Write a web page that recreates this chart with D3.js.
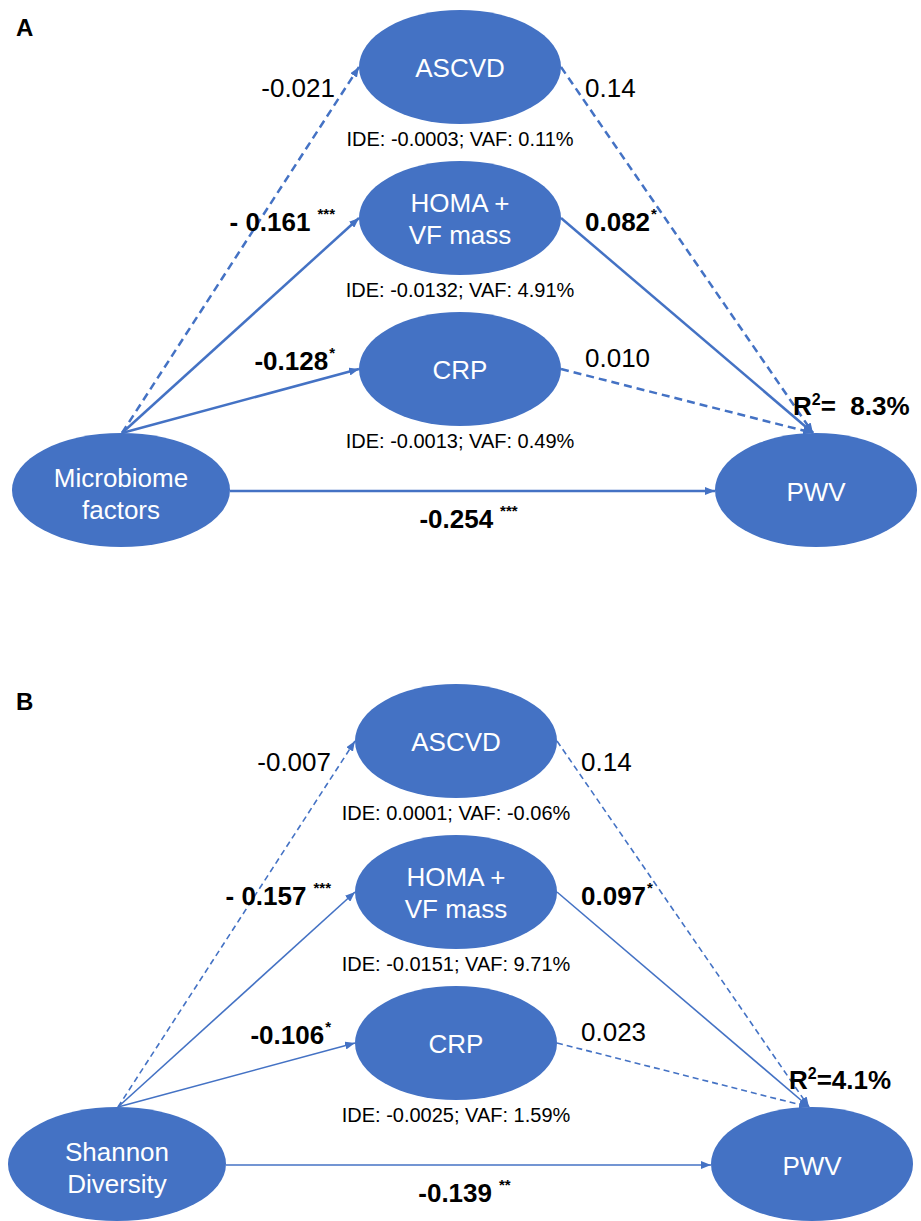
<!DOCTYPE html>
<html>
<head>
<meta charset="utf-8">
<script src="https://cdn.jsdelivr.net/npm/d3@7"></script>
<style>
  body { margin: 0; background: #fff; }
  text { font-family: "Liberation Sans", Arial, sans-serif; }
</style>
</head>
<body>
<div id="chart"></div>
<script>
// ---- data ----
const panelNames = ["A", "B"];
const sourceNames = ["Microbiome\nfactors", "Shannon\nDiversity"];
const mediatorNames = ["ASCVD", "HOMA +\nVF mass", "CRP"];
const outcomeName = "PWV";

// panel A
const aLabelsA = ["-0.021", "- 0.161", "-0.128"];
const aSigA = ["", "***", "*"];
const bLabelsA = ["0.14", "0.082", "0.010"];
const bSigA = ["", "*", ""];
const cLabelA = "-0.254", cSigA = "***";
const ideA = ["-0.0003", "-0.0132", "-0.0013"];
const vafA = ["0.11%", "4.91%", "0.49%"];
const r2A = "8.3%";

// panel B
const aLabelsB = ["-0.007", "- 0.157", "-0.106"];
const aSigB = ["", "***", "*"];
const bLabelsB = ["0.14", "0.097", "0.023"];
const bSigB = ["", "*", ""];
const cLabelB = "-0.139", cSigB = "**";
const ideB = ["0.0001", "-0.0151", "-0.0025"];
const vafB = ["-0.06%", "9.71%", "1.59%"];
const r2B = "4.1%";

// ---- layout ----
const width = 921, height = 1221;
const blue = "#4472C4";
const panelShift = [[0, 0], [-4, 674]];
const lineW = [2.5, 1.6];
const dashes = ["8,5", "6,4"];
const r2Gap = ["  ", ""];

const x = d3.scaleOrdinal()
    .domain(["source", "mediator", "outcome"])
    .range([121, 460, 816]);
const yMed = d3.scalePoint()
    .domain(mediatorNames)
    .range([67, 369]);
const yBase = 490;
const rx = { source: 109, mediator: 101, outcome: 101 };
const ry = 57;
const aDy = [30, 13, 1], bDy = [30, 13, -2];

const panels = [
    { a: aLabelsA, aSig: aSigA, b: bLabelsA, bSig: bSigA, c: cLabelA, cSig: cSigA, ide: ideA, vaf: vafA, r2: r2A },
    { a: aLabelsB, aSig: aSigB, b: bLabelsB, bSig: bSigB, c: cLabelB, cSig: cSigB, ide: ideB, vaf: vafB, r2: r2B }
];

const svg = d3.select("#chart")
    .append("svg")
    .attr("width", width)
    .attr("height", height);

svg.append("defs").append("marker")
    .attr("id", "arrow")
    .attr("markerUnits", "userSpaceOnUse")
    .attr("viewBox", "0 0 10 8")
    .attr("markerWidth", 10)
    .attr("markerHeight", 8)
    .attr("refX", 10)
    .attr("refY", 4)
    .attr("orient", "auto")
    .append("path")
    .attr("d", "M0,0 L10,4 L0,8 z")
    .attr("fill", blue);

function coefLabel(g, px, py, anchor, label, sig) {
    const t = g.append("text")
        .attr("x", px)
        .attr("y", py)
        .attr("text-anchor", anchor)
        .style("font-size", "26px")
        .style("white-space", "pre")
        .style("font-weight", sig ? "bold" : "normal")
        .attr("fill", "#000");
    t.append("tspan").text(label);
    if (sig) {
        t.append("tspan")
            .attr("dx", sig.length > 1 ? 7 : 1)
            .attr("dy", -12)
            .style("font-size", "15px")
            .text(sig);
    }
}

function nodeText(g, cx, cy, name, shift) {
    const lines = name.split("\n");
    g.append("text")
        .attr("text-anchor", "middle")
        .attr("fill", "#fff")
        .style("font-size", "26px")
        .selectAll("tspan")
        .data(lines)
        .join("tspan")
        .attr("x", cx)
        .attr("y", (d, i) => cy + (i - (lines.length - 1) / 2) * 32 + 9.5 + shift)
        .text(d => d);
}

panels.forEach((p, k) => {
    svg.append("text")
        .attr("x", 16)
        .attr("y", panelShift[k][1] + 36)
        .style("font-size", "24px")
        .style("font-weight", "bold")
        .text(panelNames[k]);

    const g = svg.append("g")
        .attr("transform", `translate(${panelShift[k][0]}, ${panelShift[k][1]})`);

    // edges
    const srcTop = [x("source") + 1, yBase - ry];
    const outTop = [x("outcome") - 3, yBase - ry];
    const edges = [];
    mediatorNames.forEach((m, i) => {
        edges.push({ p0: srcTop, p1: [x("mediator") - rx.mediator, yMed(m)], sig: p.aSig[i] });
        edges.push({ p0: [x("mediator") + rx.mediator, yMed(m)], p1: outTop, sig: p.bSig[i] });
    });
    edges.push({
        p0: [x("source") + rx.source, yBase + 1],
        p1: [x("outcome") - rx.outcome, yBase + 1],
        sig: p.cSig
    });

    g.selectAll("line.edge")
        .data(edges)
        .join("line")
        .attr("class", "edge")
        .attr("x1", d => d.p0[0])
        .attr("y1", d => d.p0[1])
        .attr("x2", d => d.p1[0])
        .attr("y2", d => d.p1[1])
        .attr("stroke", blue)
        .attr("stroke-width", lineW[k])
        .attr("stroke-dasharray", d => d.sig ? null : dashes[k])
        .attr("marker-end", "url(#arrow)");

    // nodes
    const nodes = mediatorNames.map(m => ({ name: m, cx: x("mediator"), cy: yMed(m), rx: rx.mediator, shift: 0 }));
    nodes.push({ name: sourceNames[k], cx: x("source"), cy: yBase, rx: rx.source, shift: 3 });
    nodes.push({ name: outcomeName, cx: x("outcome"), cy: yBase, rx: rx.outcome, shift: 1 });

    g.selectAll("ellipse")
        .data(nodes)
        .join("ellipse")
        .attr("cx", d => d.cx)
        .attr("cy", d => d.cy)
        .attr("rx", d => d.rx)
        .attr("ry", ry)
        .attr("fill", blue);

    nodes.forEach(n => nodeText(g, n.cx, n.cy, n.name, n.shift));

    // indirect effect notes
    g.selectAll("text.ide")
        .data(mediatorNames)
        .join("text")
        .attr("class", "ide")
        .attr("x", x("mediator"))
        .attr("y", m => yMed(m) + ry + 22)
        .attr("text-anchor", "middle")
        .style("font-size", "20px")
        .text((m, i) => `IDE: ${p.ide[i]}; VAF: ${p.vaf[i]}`);

    // path coefficients
    mediatorNames.forEach((m, i) => {
        coefLabel(g, x("mediator") - rx.mediator - 24, yMed(m) + aDy[i], "end", p.a[i], p.aSig[i]);
        coefLabel(g, x("mediator") + rx.mediator + 24, yMed(m) + bDy[i], "start", p.b[i], p.bSig[i]);
    });
    coefLabel(g, (x("source") + x("outcome")) / 2, yBase + 38, "middle", p.c, p.cSig);

    // R squared
    const r = g.append("text")
        .attr("x", x("outcome") - 23)
        .attr("y", yBase - ry - 18)
        .style("font-size", "26px")
        .style("font-weight", "bold")
        .style("white-space", "pre");
    r.append("tspan").text("R");
    r.append("tspan").attr("dy", -10).style("font-size", "16px").text("2");
    r.append("tspan").attr("dy", 10).text("=" + r2Gap[k] + p.r2);
});
</script>
</body>
</html>
